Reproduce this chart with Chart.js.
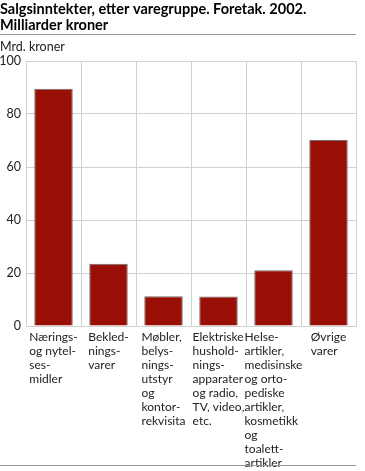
<!DOCTYPE html>
<html>
<head>
<meta charset="utf-8">
<script src="https://cdn.jsdelivr.net/npm/chart.js@4"></script>
<style>
  html, body { margin: 0; padding: 0; background: #fff; }
  #wrap { width: 365px; height: 471px; position: relative; }
</style>
</head>
<body>
<div id="wrap"><canvas id="grafSalg"></canvas></div>
<script>
const tittel = ['Salgsinntekter, etter varegruppe. Foretak. 2002.', 'Milliarder kroner'];
const enhet = 'Mrd. kroner';
const varegrupper = [
    ['Nærings-', 'og nytel-', 'ses-', 'midler'],
    ['Bekled-', 'nings-', 'varer'],
    ['Møbler,', 'belys-', 'nings-', 'utstyr', 'og', 'kontor-', 'rekvisita'],
    ['Elektriske', 'hushold-', 'nings-', 'apparater', 'og radio,', 'TV, video,', 'etc.'],
    ['Helse-', 'artikler,', 'medisinske', 'og orto-', 'pediske', 'artikler,', 'kosmetikk', 'og', 'toalett-', 'artikler'],
    ['Øvrige', 'varer']
];
const salgsinntekter = [89.5, 23.5, 11.2, 11.1, 21.0, 70.2];
const yTicks = [0, 20, 40, 60, 80, 100];

// tegner skillelinjer og kategoritekster (venstrejustert blokk, sentrert i kategorien)
const tekstPlugin = {
    id: 'tekstPlugin',
    afterDraw(chart) {
        const ctx = chart.ctx;
        const x = chart.scales.x;
        ctx.save();
        ctx.fillStyle = '#222';
        ctx.font = '12px Lato';
        ctx.textBaseline = 'middle';
        ctx.textAlign = 'left';
        varegrupper.forEach((linjer, i) => {
            const maxW = Math.max(...linjer.map(l => ctx.measureText(l).width));
            const venstre = x.getPixelForValue(i) - maxW / 2;
            linjer.forEach((l, j) => ctx.fillText(l, venstre, 337 + j * 14));
        });
        ctx.strokeStyle = '#999';
        ctx.lineWidth = 1;
        ctx.beginPath();
        ctx.moveTo(0, 34.5); ctx.lineTo(356, 34.5);
        ctx.moveTo(0, 465.5); ctx.lineTo(356, 465.5);
        ctx.stroke();
        ctx.restore();
    }
};

const ctxSalg = document.getElementById('grafSalg').getContext('2d');
const grafSalg = new Chart(ctxSalg, {
    type: 'bar',
    data: {
        labels: varegrupper,
        datasets: [{
            label: 'Salgsinntekter',
            data: salgsinntekter,
            backgroundColor: '#990f05',
            borderColor: '#6e6e6e',
            borderWidth: 1,
            categoryPercentage: 1,
            barPercentage: 0.7
        }]
    },
    options: {
        responsive: true,
        maintainAspectRatio: false,
        animation: false,
        layout: {
            padding: { top: 0, left: 0, right: 9, bottom: 0 }
        },
        scales: {
            x: {
                grid: { color: '#d0d0d0', drawTicks: false, offset: true },
                border: { color: '#d0d0d0' },
                ticks: { display: false },
                afterFit(scale) { scale.height = 145; }
            },
            y: {
                min: 0,
                max: 100,
                afterBuildTicks(scale) { scale.ticks = yTicks.map(v => ({ value: v })); },
                grid: { color: '#d0d0d0', drawTicks: false },
                border: { color: '#d0d0d0' },
                ticks: {
                    color: '#222',
                    padding: 5,
                    font: { family: 'Lato', size: 12.5 }
                },
                afterFit(scale) { scale.width = 26; }
            }
        },
        plugins: {
            legend: { display: false },
            tooltip: { enabled: false },
            title: {
                display: true,
                text: tittel,
                align: 'start',
                color: '#000',
                font: { family: 'Lato', size: 14.5, weight: 'bold', lineHeight: '16px' },
                padding: { top: 1, bottom: 3 }
            },
            subtitle: {
                display: true,
                text: enhet,
                align: 'start',
                color: '#222',
                font: { family: 'Lato', size: 12.5, lineHeight: '14px' },
                padding: { top: 4, bottom: 7 }
            }
        }
    },
    plugins: [tekstPlugin]
});
</script>
</body>
</html>
